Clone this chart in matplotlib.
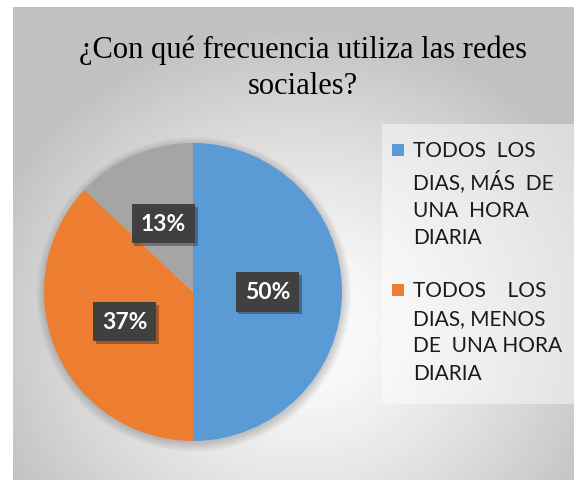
import matplotlib
matplotlib.use("Agg")
import matplotlib.pyplot as plt
import matplotlib.patheffects as pe
from matplotlib.patches import Rectangle, Circle
import numpy as np

# Data
CATEGORIES = [
    "TODOS  LOS\nDIAS, MÁS  DE\nUNA  HORA\nDIARIA",
    "TODOS    LOS\nDIAS, MENOS\nDE  UNA HORA\nDIARIA",
    "OTROS",
]
VALUES = [50, 37, 13]
COLORS = ["#5B9BD5", "#ED7D31", "#A5A5A5"]
TITLE = "¿Con qué frecuencia utiliza las redes\nsociales?"
# only the first two entries are visible in the reference legend
LEGEND_SHOWN = 2

W, H = 574, 481
fig = plt.figure(figsize=(W / 100, H / 100), dpi=100)
fig.patch.set_facecolor("white")

# Chart area with radial gradient background
x0, y0 = 13, 8
bg = fig.add_axes([x0 / W, 0, (W - x0) / W, (H - y0) / H])
bg.set_axis_off()
yy, xx = np.mgrid[y0:H, x0:W]
d = np.hypot(xx - 300, (yy - 330) * 1.1)
d = np.clip(d / 330, 0, 1)
shade = 1 - 0.24 * d ** 1.3
bg.imshow(shade, cmap="gray", vmin=0, vmax=1, aspect="auto",
          extent=[0, 1, 0, 1], interpolation="bilinear")
bg.set_xlim(0, 1)
bg.set_ylim(0, 1)

# Title
fig.text(303 / W, 1 - 68 / H, TITLE, ha="center", va="center",
         family="Liberation Serif", fontsize=22, linespacing=1.3,
         color="black")

# Legend background
fig.patches.append(Rectangle((382 / W, 1 - 405 / H), (W - 382) / W,
                             280 / H, transform=fig.transFigure,
                             facecolor="white", alpha=0.45,
                             edgecolor="none", zorder=1))

# Pie
cx, cy, r = 193, 293, 149
ax = fig.add_axes([(cx - r - 10) / W, (H - cy - r - 10) / H,
                   (2 * r + 20) / W, (2 * r + 20) / H])
ax.set_axis_off()
lim = (r + 10) / r

# soft shadow around the pie
for k in range(8):
    ax.add_patch(Circle((0.005, -0.015), 1.0 + 0.008 * k,
                        facecolor="black", alpha=0.025, edgecolor="none",
                        zorder=0))

wedges, texts, autotexts = ax.pie(
    VALUES, colors=COLORS, startangle=90, counterclock=False,
    autopct="%d%%", pctdistance=0.5, radius=1.0,
    wedgeprops=dict(linewidth=0),
    textprops=dict(color="white", family="Lato", fontweight="bold",
                   fontsize=16.5),
)
ax.set_xlim(-lim, lim)
ax.set_ylim(-lim, lim)
ax.set_aspect("equal")
for t in autotexts:
    t.set_bbox(dict(boxstyle="square,pad=0.4", facecolor="#404040",
                    edgecolor="none"))
    t.get_bbox_patch().set_path_effects(
        [pe.SimplePatchShadow(offset=(2, -2), alpha=0.35), pe.Normal()])

# Legend (two visible entries)
top_px = [145, 285]
for i in range(LEGEND_SHOWN):
    fig.patches.append(Rectangle((392 / W, 1 - (top_px[i] + 12) / H),
                                 12 / W, 12 / H, transform=fig.transFigure,
                                 facecolor=COLORS[i], edgecolor="none",
                                 zorder=3))
    fig.text(413 / W, 1 - (top_px[i] - 4) / H, CATEGORIES[i],
             ha="left", va="top", family="Lato", fontsize=15,
             linespacing=1.48, color="#1a1a1a", zorder=3)

fig.savefig("out.png", dpi=100)
